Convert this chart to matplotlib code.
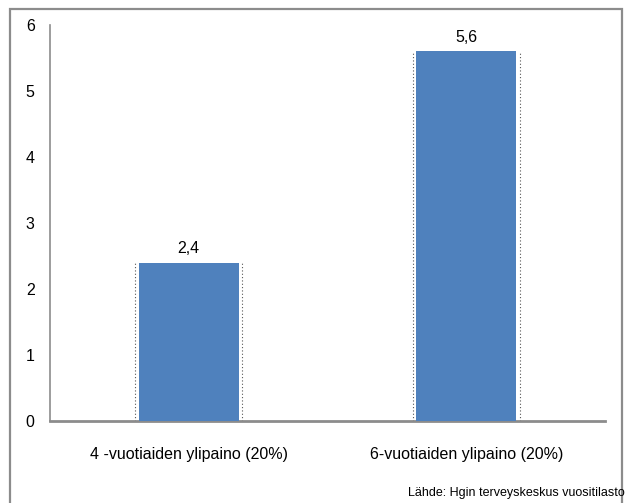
import matplotlib
matplotlib.use("Agg")
import matplotlib.pyplot as plt
from matplotlib.patches import Rectangle

categories = ["4 -vuotiaiden ylipaino (20%)", "6-vuotiaiden ylipaino (20%)"]
values = [2.4, 5.6]
value_labels = ["2,4", "5,6"]
yticks = [0, 1, 2, 3, 4, 5, 6]
source = "Lähde: Hgin terveyskeskus vuositilasto"

plt.rcParams['font.family'] = ['Liberation Sans', 'DejaVu Sans']

fig = plt.figure(figsize=(6.3, 5.03), dpi=100)
W, H = 630, 503

# outer chart frame (bottom edge falls outside the image)
fig.patches.append(Rectangle((10 / W, -0.05), 612 / W, 1.05 - 9 / H,
                             transform=fig.transFigure, fill=False,
                             edgecolor='#8c8c8c', linewidth=1.6))

ax = fig.add_axes([50 / W, (H - 421) / H, 555 / W, 396 / H])
x = range(len(categories))
bw = 0.36
ax.bar(x, values, width=bw, color='#4f81bd', zorder=3)
for i, v in enumerate(values):
    ax.vlines([i - bw / 2 - 0.012, i + bw / 2 + 0.012], 0, v,
              colors='#555555', linestyles=(0, (1, 2)), linewidth=0.8, zorder=2)
    ax.text(i, v + 0.1, value_labels[i], ha='center', va='bottom', fontsize=11.5)

ax.set_xlim(-0.5, 1.5)
ax.set_ylim(0, 6)
ax.set_yticks(yticks)
ax.set_yticklabels([str(t) for t in yticks], fontsize=11.5)
ax.set_xticks(list(x))
ax.set_xticklabels(categories, fontsize=11.5)
ax.tick_params(length=0)
ax.tick_params(axis='y', pad=11)
ax.tick_params(axis='x', pad=19)
for s in ['top', 'right']:
    ax.spines[s].set_visible(False)
ax.spines['left'].set_color('#8c8c8c')
ax.spines['left'].set_linewidth(1.2)
ax.spines['bottom'].set_color('#8c8c8c')
ax.spines['bottom'].set_linewidth(2)

fig.text(625 / W, (H - 493) / H, source, ha='right', va='center', fontsize=9)

fig.savefig('out.png', dpi=100)
